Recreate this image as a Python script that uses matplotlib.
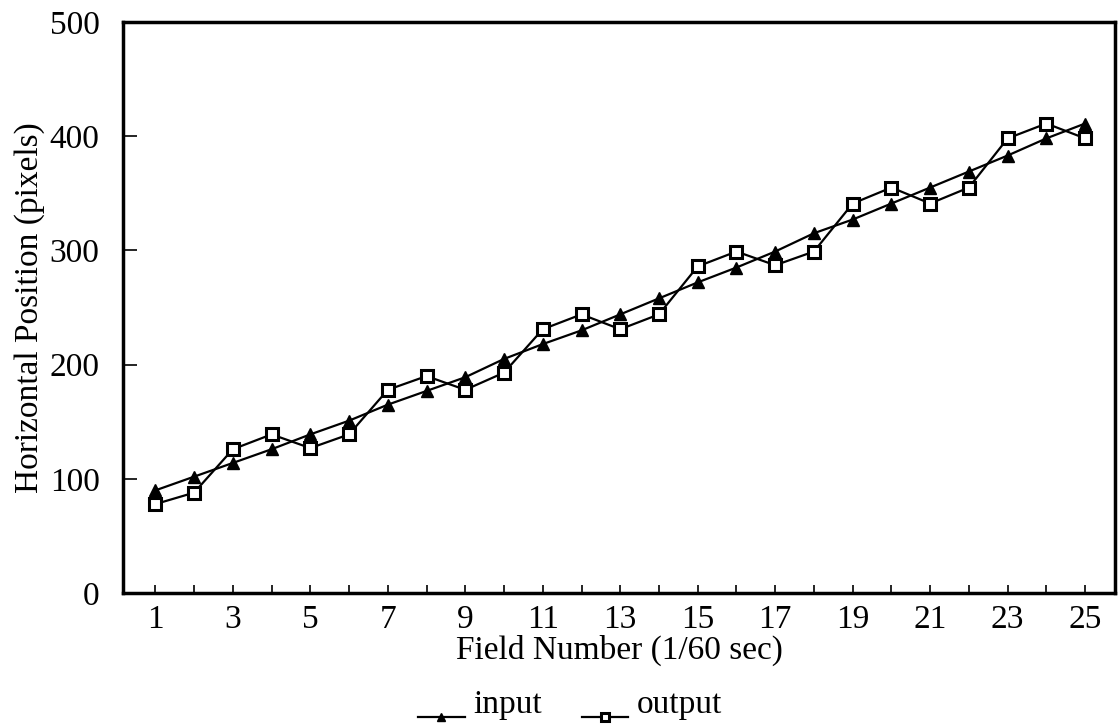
import numpy as np
import matplotlib.pyplot as plt
from matplotlib.legend_handler import HandlerLine2D

plt.rcParams['font.family'] = ['Liberation Serif', 'DejaVu Serif']

# Horizontal position per field, read for each of the 25 fields
fields = np.arange(1, 26)
input_pos = [90, 102, 114, 126, 139, 151, 165, 177, 189, 205,
             218, 230, 244, 258, 272, 285, 299, 315, 327, 341,
             355, 369, 383, 398, 411]
output_pos = [78, 88, 126, 139, 127, 139, 178, 190, 178, 193,
              231, 244, 231, 244, 286, 299, 287, 299, 341, 355,
              341, 355, 398, 411, 398]


class LowHandler(HandlerLine2D):
    # puts the legend line and marker down on the text baseline
    def create_artists(self, legend, orig_handle, xdescent, ydescent,
                       width, height, fontsize, trans):
        arts = super().create_artists(legend, orig_handle, xdescent, ydescent,
                                      width, height, fontsize, trans)
        for a in arts:
            a.set_ydata(np.asarray(a.get_ydata()) - 0.45 * fontsize)
        return arts


fig = plt.figure(figsize=(11.2, 7.27), dpi=100)
ax = fig.add_axes([0.11, 0.184, 0.8855, 0.786])

l_in, = ax.plot(fields, input_pos, color='black', lw=1.6, marker='^', ms=9,
                mfc='black', mec='black', label='input')
l_out, = ax.plot(fields, output_pos, color='black', lw=1.6, marker='s', ms=9,
                 mfc='white', mec='black', mew=2.2, label='output')

ax.set_xlim(0.17, 25.77)
ax.set_ylim(0, 500)
ax.set_xticks(fields)
ax.set_xticklabels([str(f) if f % 2 else '' for f in fields])
ax.set_yticks(np.arange(0, 501, 100))
ax.tick_params(axis='x', direction='in', length=6, width=1.2, labelsize=24, pad=8)
ax.tick_params(axis='y', direction='in', length=10, width=1.2, labelsize=24, pad=17)
for s in ax.spines.values():
    s.set_linewidth(2.5)

ax.set_xlabel('Field Number (1/60 sec)', fontsize=24, labelpad=0)
ax.set_ylabel('Horizontal Position (pixels)', fontsize=24, labelpad=3)

low = LowHandler()
fig.legend(handles=[l_in, l_out], loc='center', bbox_to_anchor=(0.509, 0.03),
           ncol=2, frameon=False, fontsize=24, handlelength=1.4,
           handletextpad=0.25, columnspacing=1.2, markerscale=0.65,
           handler_map={l_in: low, l_out: low})

fig.savefig('out.png', dpi=100)
